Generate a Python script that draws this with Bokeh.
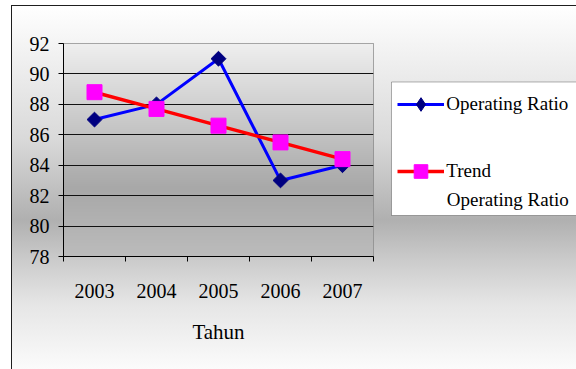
import math

import numpy as np
from bokeh.embed import file_html
from bokeh.layouts import row
from bokeh.models import BoxAnnotation, FixedTicker, Label, Legend, LegendItem, Range1d
from bokeh.plotting import figure
from bokeh.resources import INLINE

# --- data -------------------------------------------------------------
years = ["2003", "2004", "2005", "2006", "2007"]
operating_ratio = [87, 88, 91, 83, 84]
trend_operating_ratio = [88.8, 87.7, 86.6, 85.5, 84.4]
y_ticks = [78, 80, 82, 84, 86, 88, 90, 92]

series_names = ["Operating Ratio", "Trend", "Operating Ratio"]  # legend text lines

FONT = "'Liberation Serif', serif"

OR_LINE = dict(line_color="#0000ff", line_width=3)
OR_MARK = dict(marker="square", angle=math.pi / 4, size=10.5,
               fill_color="#000080", line_color="#000080")
TR_LINE = dict(line_color="#ff0000", line_width=3.5)
TR_MARK = dict(marker="square", size=15, fill_color="#ff00ff", line_color="#ff00ff")

W, H = 576, 369                 # whole chart area
PLOT_L, PLOT_R = 63, 373        # plot-area edges (px from left)
PLOT_T, PLOT_B = 43, 256        # plot-area edges (px from top)
SPLIT = 390                     # where the legend pane starts

# every year occupies a unit-wide slot; points sit in the slot middle,
# tick marks sit on the slot edges
slot_centers = [i + 0.5 for i in range(len(years))]
slot_edges = list(range(len(years) + 1))

# ---------------------------------------------------------------- chart
p = figure(
    width=SPLIT, height=H,
    output_backend="svg", toolbar_location=None,
    x_range=Range1d(slot_edges[0], slot_edges[-1]),
    y_range=Range1d(y_ticks[0], y_ticks[-1]),
    min_border_left=PLOT_L, min_border_right=SPLIT - PLOT_R,
    min_border_top=PLOT_T, min_border_bottom=H - PLOT_B,
)
p.border_fill_color = None
p.background_fill_color = None
p.outline_line_color = "#8c8c8c"
p.outline_line_width = 1

# plot-area fill: light at the top, darkest a little above the x axis
rows = PLOT_B - PLOT_T
frac_from_top = np.linspace(1.0, 0.0, rows)          # row 0 is the bottom row
grey = np.interp(frac_from_top, [0.0, 0.68, 1.0], [239, 168, 188]).astype(np.uint32)
shade = ((255 << 24) | (grey << 16) | (grey << 8) | grey).astype(np.uint32).reshape(rows, 1)
p.image_rgba(image=[shade], x=slot_edges[0], y=y_ticks[0],
             dw=slot_edges[-1] - slot_edges[0], dh=y_ticks[-1] - y_ticks[0], level="image")

# grid
p.xgrid.visible = False
p.ygrid.ticker = FixedTicker(ticks=y_ticks[1:-1])
p.ygrid.grid_line_color = "#111111"
p.ygrid.grid_line_width = 1

# y axis
p.yaxis.ticker = FixedTicker(ticks=y_ticks)
p.yaxis.axis_line_color = "black"
p.yaxis.major_tick_line_color = "black"
p.yaxis.major_tick_in = 0
p.yaxis.major_tick_out = 5
p.yaxis.minor_tick_line_color = None
p.yaxis.major_label_standoff = 9
p.yaxis.major_label_text_font = FONT
p.yaxis.major_label_text_font_size = "20px"
p.yaxis.major_label_text_color = "black"

# x axis: labels in the slot middles, ticks on the slot edges
p.xaxis.ticker = FixedTicker(ticks=slot_centers, minor_ticks=slot_edges)
p.xaxis.major_label_overrides = {c: y for c, y in zip(slot_centers, years)}
p.xaxis.axis_line_color = "black"
p.xaxis.major_tick_line_color = None
p.xaxis.minor_tick_line_color = "black"
p.xaxis.minor_tick_in = 0
p.xaxis.minor_tick_out = 5
p.xaxis.major_label_standoff = 21
p.xaxis.major_label_text_font = FONT
p.xaxis.major_label_text_font_size = "20px"
p.xaxis.major_label_text_color = "black"
p.xaxis.axis_label = "Tahun"
p.xaxis.axis_label_text_font = FONT
p.xaxis.axis_label_text_font_size = "21px"
p.xaxis.axis_label_text_font_style = "normal"
p.xaxis.axis_label_text_color = "black"
p.xaxis.axis_label_standoff = 19

# series (trend drawn last so it sits on top)
p.line(slot_centers, operating_ratio, **OR_LINE)
p.scatter(slot_centers, operating_ratio, **OR_MARK)
p.line(slot_centers, trend_operating_ratio, **TR_LINE)
p.scatter(slot_centers, trend_operating_ratio, **TR_MARK)

# --------------------------------------------------------------- legend
# Legend pane: its frame lines up with the chart's plot area vertically;
# ranges are pixels (x from the pane's left, y from the page bottom).
lw = W - SPLIT
lf = figure(
    width=lw, height=H, output_backend="svg", toolbar_location=None,
    x_range=Range1d(0, lw), y_range=Range1d(H - PLOT_B, H - PLOT_T),
    x_axis_location=None, y_axis_location=None,
    min_border_left=0, min_border_right=0,
    min_border_top=PLOT_T, min_border_bottom=H - PLOT_B,
)
lf.grid.visible = False
lf.outline_line_color = None
lf.border_fill_color = None
lf.background_fill_color = None

box_top, box_bottom = 81.5, 215      # px from the page top
lf.add_layout(BoxAnnotation(left=1, right=lw + 20, top=H - box_top, bottom=H - box_bottom,
                            fill_color="white", fill_alpha=1.0,
                            line_color="black", line_width=1, level="underlay"))

# legend keys: same series styles, hidden in this pane
# (the key marker for the ratio series is drawn as an upright diamond)
key_or_mark = dict(OR_MARK, marker="diamond", angle=0)
key_or = [lf.line(slot_centers, operating_ratio, visible=False, **OR_LINE),
          lf.scatter(slot_centers, operating_ratio, visible=False, **key_or_mark)]
key_tr = [lf.line(slot_centers, trend_operating_ratio, visible=False, **TR_LINE),
          lf.scatter(slot_centers, trend_operating_ratio, visible=False, **TR_MARK)]

item_h = 34
first_key, second_key = 103.3, 170.7  # key centre lines, px from the page top
legend_bottom = second_key + item_h / 2
legend = Legend(
    items=[LegendItem(label=series_names[0], renderers=key_or),
           LegendItem(label=series_names[1], renderers=key_tr)],
    location=(7.3, PLOT_B - legend_bottom),
    margin=0, padding=0, spacing=int(round(second_key - first_key - item_h)),
    glyph_width=47, glyph_height=item_h, label_height=item_h,
    label_standoff=2,
    label_text_font=FONT, label_text_font_size="19px", label_text_color="black",
    border_line_color=None, background_fill_alpha=0.0,
)
lf.add_layout(legend)

lf.add_layout(Label(x=56.3, y=H - 199, text=series_names[2], text_baseline="middle",
                    text_font=FONT, text_font_size="19px", text_color="black"))

# ---------------------------------------------------------------- page
layout = row(p, lf)
chart_bg = ("linear-gradient(to bottom, #ffffff 0px, #f1f1f1 50px, #d9d9d9 135px, "
            "#b0b0b0 215px, #cbcbcb 255px, #e6e6e6 300px, #fbfbfb 364px)")
layout.styles = {
    "background": (
        "linear-gradient(#1e1e1e, #1e1e1e) 11px 5px / 1px 364px no-repeat, "
        "linear-gradient(#1e1e1e, #1e1e1e) 11px 5px / 565px 1px no-repeat, "
        f"{chart_bg} 11px 5px / 565px 364px no-repeat, #ffffff"
    )
}

open("out.html", "w").write(file_html(layout, INLINE))
